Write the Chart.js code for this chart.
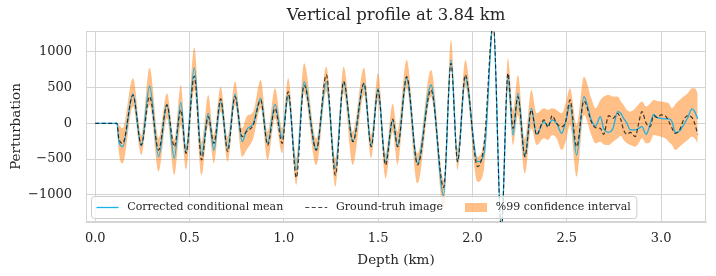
<!DOCTYPE html>
<html>
<head>
  <title>Vertical profile at 3.84 km</title>
  <script src="https://cdn.jsdelivr.net/npm/chart.js"></script>
  <style>body { margin: 0; background: #fff; }</style>
</head>
<body>
  <canvas id="profile" width="716" height="276"></canvas>

  <script>
    // depth in km
    const depth = [0, 0.115, 0.125, 0.145, 0.200, 0.244, 0.288, 0.336, 0.380, 0.419,
      0.454, 0.481, 0.525, 0.564, 0.599, 0.629, 0.665, 0.702, 0.741, 0.779,
      0.802, 0.838, 0.877, 0.914, 0.953, 0.991, 1.023, 1.066, 1.107, 1.172,
      1.225, 1.273, 1.317, 1.366, 1.425, 1.463, 1.499, 1.539, 1.577, 1.603,
      1.651, 1.709, 1.780, 1.847, 1.886, 1.921, 1.962, 2.027, 2.062, 2.110,
      2.153, 2.188, 2.215, 2.241, 2.278, 2.312, 2.340, 2.379, 2.400, 2.423,
      2.446, 2.473, 2.494, 2.517, 2.552, 2.591, 2.630, 2.652,
      2.678, 2.695, 2.722, 2.745, 2.770, 2.787, 2.801, 2.819, 2.836, 2.863,
      2.881, 2.898, 2.921, 2.943, 2.960, 2.981, 2.999, 3.022, 3.040, 3.058,
      3.075, 3.098, 3.119, 3.141, 3.164, 3.178, 3.194];

    const condMean = [0, 0, -257, -327, 411, -313, 523, -467, 266, -490,
      294, -420, 780, -444, 140, -374, 304, -350, 407, -257,
      -93, 0, 350, -280, 266, -210, 397, -650, 584, -374,
      584, -631, 584, -257, 561, -327, 490, -537, 42, -327,
      631, -561, 537, -1010, 888, -537, 640, -537, -420, 1400,
      -1500, 678, -164, 420, -467, 210, -154, 23, -33, 47,
      0, -140, 23, 257, -444, 374, 47, -40,
      93, -70, -126, -70, 164, 140, 70, 0, -93, -93,
      -70, -47, -154, 0, 126, 79, 70, 61, 61, 23,
      -126, -107, -23, 79, 201, 164, 61];

    const groundTruth = [0, 0, -210, -280, 397, -304, 374, -374, 257, -327,
      187, -420, 660, -514, 93, -280, 341, -397, 374, -187,
      -117, -23, 327, -304, 210, -280, 444, -760, 537, -374,
      678, -724, 584, -257, 561, -327, 467, -584, 60, -327,
      654, -584, 467, -900, 841, -537, 678, -607, -280, 1400,
      -1500, 701, -70, 374, -467, 187, -164, 47, -56, 107,
      0, -47, 23, 327, -327, 313, 23, -60,
      -70, -154, 107, 70, 140, 47, -93, -154, -126, -187,
      0, 164, 0, -47, 107, 79, 117, 107, 33, -70,
      -140, -93, 47, 107, 79, 0, -154];

    const ciUpper = [0, 0, -23, -70, 631, -164, 780, -210, 421, -234,
      537, -300, 1061, -257, 397, -164, 514, -187, 584, -70,
      93, 164, 607, -117, 491, -70, 631, -490, 841, -210,
      794, -490, 794, -117, 780, -164, 701, -420, 275, -117,
      888, -420, 748, -794, 1168, -350, 888, -467, -210, 1500,
      -1400, 911, 187, 678, -210, 467, 140, 210, 187, 210,
      187, 140, 280, 491, -23, 654, 350, 210,
      327, 374, 397, 374, 374, 304, 257, 187, 164, 210,
      266, 304, 234, 280, 327, 313, 304, 294, 280, 210,
      266, 327, 374, 421, 491, 491, 421];

    const ciLower = [0, 0, -397, -561, 234, -444, 257, -678, 70, -724,
      -23, -650, 467, -724, -23, -561, 164, -537, 257, -467,
      -374, -210, 210, -514, 70, -420, 304, -865, 421, -584,
      444, -888, 421, -584, 397, -490, 327, -771, -121, -584,
      491, -841, 374, -1200, 771, -654, 514, -818, -631, 1300,
      -1600, 467, -304, 117, -701, -70, -304, -210, -234, -164,
      -210, -374, -257, -23, -748, 117, -164, -280,
      -257, -294, -304, -257, -210, -173, -234, -280, -304, -327,
      -280, -210, -280, -257, -164, -173, -187, -210, -257, -304,
      -374, -327, -280, -234, -187, -210, -280];

    const xTicks = [0, 0.5, 1.0, 1.5, 2.0, 2.5, 3.0];
    const yTicks = [-1000, -500, 0, 500, 1000];
    const titleText = 'Vertical profile at 3.84 km';
    const legendLabels = ['Corrected conditional mean', 'Ground-truh image', '%99 confidence interval'];

    const FONT = 'DejaVu Serif';
    const TEXT = '#262626';
    const GRID = '#d4d4d4';
    const BLUE = '#1ab2e8';
    const DASH = 'rgba(0,0,0,0.72)';
    const ORANGE = 'rgba(255,127,14,0.5)';

    const pts = (ys) => ys.map((y, i) => ({ x: depth[i], y: y }));

    // top/right frame, title and the in-axes legend
    const decorations = {
      id: 'decorations',
      beforeDatasetsDraw(chart) {
        const { ctx, chartArea: a } = chart;
        ctx.save();
        ctx.strokeStyle = GRID;
        ctx.lineWidth = 1;
        ctx.strokeRect(a.left + 0.5, a.top + 0.5, a.right - a.left - 1, a.bottom - a.top - 1);
        ctx.restore();
      },
      afterDraw(chart) {
        const { ctx, chartArea: a } = chart;
        ctx.save();
        ctx.fillStyle = TEXT;
        ctx.font = '16.5px "' + FONT + '"';
        ctx.textAlign = 'center';
        ctx.textBaseline = 'middle';
        ctx.fillText(titleText, (a.left + a.right) / 2, 16);

        // legend, lower left inside the axes
        const fs = 11;
        ctx.font = fs + 'px "' + FONT + '"';
        const handle = 2 * fs, gap = 0.8 * fs, colGap = 2 * fs, pad = 0.5 * fs;
        const widths = legendLabels.map(t => ctx.measureText(t).width);
        let w = pad * 2;
        widths.forEach((tw, i) => { w += handle + gap + tw + (i < widths.length - 1 ? colGap : 0); });
        const h = 22;
        const bx = a.left + 5, by = a.bottom - 4 - h;
        ctx.beginPath();
        ctx.roundRect(bx + 0.5, by + 0.5, w, h, 3);
        ctx.fillStyle = 'rgba(255,255,255,0.8)';
        ctx.fill();
        ctx.strokeStyle = '#cccccc';
        ctx.lineWidth = 1;
        ctx.stroke();

        const cy = by + h / 2 + 0.5;
        let x = bx + pad;
        widths.forEach((tw, i) => {
          if (i === 0) {
            ctx.strokeStyle = BLUE; ctx.lineWidth = 1.3; ctx.setLineDash([]);
            ctx.beginPath(); ctx.moveTo(x, cy); ctx.lineTo(x + handle, cy); ctx.stroke();
          } else if (i === 1) {
            ctx.strokeStyle = DASH; ctx.lineWidth = 1.2; ctx.setLineDash([4, 2.5]);
            ctx.beginPath(); ctx.moveTo(x, cy); ctx.lineTo(x + handle, cy); ctx.stroke();
            ctx.setLineDash([]);
          } else {
            ctx.fillStyle = ORANGE;
            ctx.fillRect(x, cy - 4.5, handle, 9);
          }
          ctx.fillStyle = TEXT;
          ctx.textAlign = 'left';
          ctx.fillText(legendLabels[i], x + handle + gap, cy);
          x += handle + gap + tw + colGap;
        });
        ctx.restore();
      }
    };

    const tickFont = { family: FONT, size: 13 };

    new Chart(document.getElementById('profile'), {
      type: 'line',
      data: {
        datasets: [
          {
            label: legendLabels[1], data: pts(groundTruth),
            borderColor: DASH, borderWidth: 1.2, borderDash: [4, 2.5],
            pointRadius: 0, fill: false, cubicInterpolationMode: 'monotone'
          },
          {
            label: legendLabels[0], data: pts(condMean),
            borderColor: BLUE, borderWidth: 1.3,
            pointRadius: 0, fill: false, cubicInterpolationMode: 'monotone'
          },
          {
            label: legendLabels[2], data: pts(ciUpper),
            borderColor: 'rgba(0,0,0,0)', borderWidth: 0, backgroundColor: ORANGE,
            pointRadius: 0, fill: '+1', cubicInterpolationMode: 'monotone'
          },
          {
            label: 'lower', data: pts(ciLower),
            borderColor: 'rgba(0,0,0,0)', borderWidth: 0,
            pointRadius: 0, fill: false, cubicInterpolationMode: 'monotone'
          }
        ]
      },
      options: {
        responsive: false,
        animation: false,
        devicePixelRatio: 1,
        layout: { padding: { top: 31, right: 10, left: 0, bottom: 0 } },
        plugins: { legend: { display: false }, tooltip: { enabled: false } },
        scales: {
          x: {
            type: 'linear', min: -0.049, max: 3.238,
            afterBuildTicks: (s) => { s.ticks = xTicks.map(v => ({ value: v })); },
            afterFit: (s) => { s.height = 54; },
            grid: { color: GRID, drawTicks: false },
            border: { color: GRID },
            ticks: {
              padding: 9, color: TEXT, font: tickFont, autoSkip: false, maxRotation: 0,
              callback: (v) => Number(v).toFixed(1)
            },
            title: {
              display: true, text: 'Depth (km)', color: TEXT,
              font: { family: FONT, size: 13.5 }, padding: { top: 2, bottom: 7 }
            }
          },
          y: {
            min: -1382, max: 1293,
            afterBuildTicks: (s) => { s.ticks = yTicks.map(v => ({ value: v })); },
            afterFit: (s) => { s.width = 86; },
            grid: { color: GRID, drawTicks: false },
            border: { color: GRID },
            ticks: {
              padding: 14, color: TEXT, font: tickFont, autoSkip: false,
              callback: (v) => (v < 0 ? '\u2212' + Math.abs(v) : String(v))
            },
            title: {
              display: true, text: 'Perturbation', color: TEXT,
              font: { family: FONT, size: 13.5 }, padding: { top: 8, bottom: 0 }
            }
          }
        }
      },
      plugins: [decorations]
    });
  </script>
</body>
</html>
